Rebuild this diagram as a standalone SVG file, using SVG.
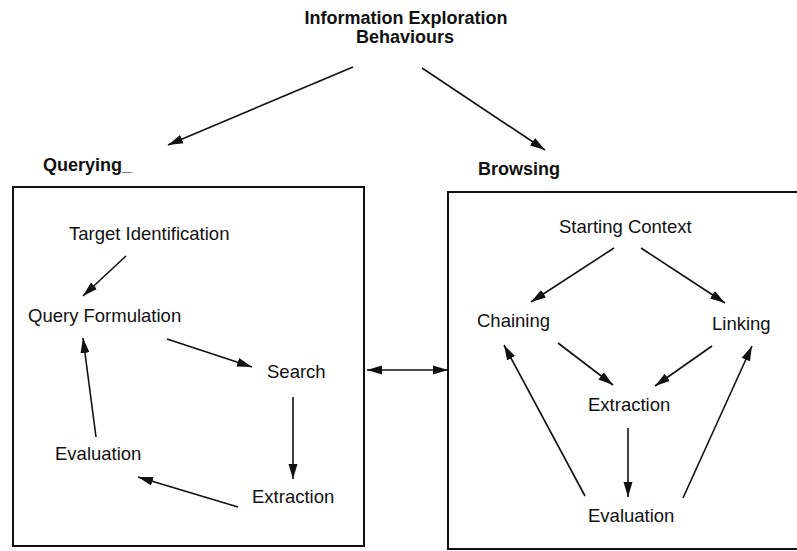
<svg xmlns="http://www.w3.org/2000/svg" width="797" height="551" viewBox="0 0 797 551">
<defs>
<style>
.t{font-family:"Liberation Sans",Arial,sans-serif;font-size:18.5px;fill:#111}
.b{font-family:"Liberation Sans",Arial,sans-serif;font-size:18px;font-weight:bold;fill:#111}
.box{fill:none;stroke:#111;stroke-width:2}
.c line{stroke:#111;stroke-width:1.6;marker-end:url(#ah)}
</style>
<marker id="ah" markerUnits="userSpaceOnUse" markerWidth="15" markerHeight="10" refX="15" refY="5" orient="auto-start-reverse">
<path d="M0,0.5 L15,5 L0,9.5 z" fill="#111"/>
</marker>
</defs>
<rect width="797" height="551" fill="#fff"/>
<g id="title"><text class="b" x="406" y="24" text-anchor="middle">Information Exploration</text><text class="b" x="405" y="43" text-anchor="middle">Behaviours</text></g>
<g id="querying"><text class="b" x="43" y="171">Querying_</text><rect class="box" x="13" y="187" width="351" height="359"/></g>
<g id="browsing"><text class="b" x="478" y="175">Browsing</text><rect class="box" x="448" y="192" width="370" height="357"/></g>
<g id="q-target"><text class="t" x="69" y="240">Target Identification</text></g>
<g id="q-formulation"><text class="t" x="28" y="322">Query Formulation</text></g>
<g id="q-search"><text class="t" x="267" y="378">Search</text></g>
<g id="q-evaluation"><text class="t" x="55" y="460">Evaluation</text></g>
<g id="q-extraction"><text class="t" x="252" y="503">Extraction</text></g>
<g id="b-start"><text class="t" x="559" y="233">Starting Context</text></g>
<g id="b-chaining"><text class="t" x="477" y="327">Chaining</text></g>
<g id="b-linking"><text class="t" x="712" y="330">Linking</text></g>
<g id="b-extraction"><text class="t" x="588" y="411">Extraction</text></g>
<g id="b-evaluation"><text class="t" x="588" y="522">Evaluation</text></g>
<g id="connectors" class="c">
<line x1="353" y1="67" x2="168" y2="145"/>
<line x1="422" y1="68" x2="545" y2="150"/>
<line x1="126" y1="256" x2="83" y2="296"/>
<line x1="167" y1="339" x2="252" y2="367"/>
<line x1="293" y1="397" x2="293" y2="479"/>
<line x1="238" y1="507" x2="138" y2="477"/>
<line x1="96" y1="437" x2="83" y2="338"/>
<line x1="367" y1="370" x2="448" y2="370" style="marker-start:url(#ah)"/>
<line x1="614" y1="248" x2="531" y2="302"/>
<line x1="641" y1="248" x2="725" y2="303"/>
<line x1="558" y1="343" x2="613" y2="385"/>
<line x1="712" y1="346" x2="655" y2="386"/>
<line x1="628" y1="428" x2="628" y2="497"/>
<line x1="585" y1="496" x2="504" y2="345"/>
<line x1="683" y1="498" x2="752" y2="346"/>
</g>
</svg>
